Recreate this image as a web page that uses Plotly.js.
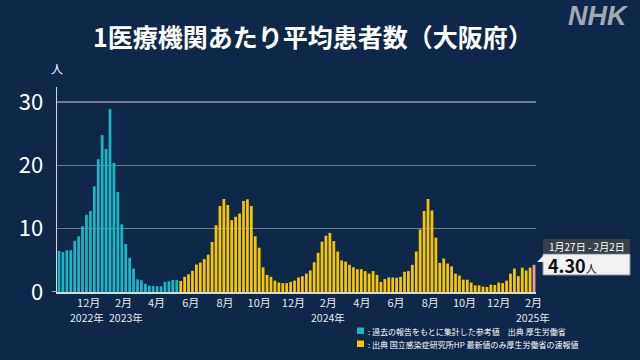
<!DOCTYPE html>
<html>
<head>
<meta charset="utf-8">
<script src="https://cdn.plot.ly/plotly-3.0.1.min.js"></script>
<style>
  html, body { margin: 0; padding: 0; background: #0f2748; }
  #chart { width: 640px; height: 360px; }
</style>
</head>
<body>
<div id="chart"></div>
<script>
// ---- DATA ----
// Weekly average patients per medical institution (Osaka), week ending Sundays
const firstWeekEnd = '2022-10-09';
const avgPatients = [
  6.5, 6.3, 6.6, 6.6, 8.1, 8.8, 10.4, 12.2, 12.8, 16.7,
  21.0, 24.8, 22.6, 28.9, 20.4, 15.8, 10.7, 7.6, 5.4, 3.7,
  2.0, 1.85, 1.3, 1.0, 0.95, 0.9, 0.9, 1.6, 1.7, 1.9,
  1.9, 1.75, 2.4, 2.8, 3.35, 4.35, 4.65, 5.2, 5.9, 7.9,
  10.55, 13.6, 14.7, 13.75, 11.35, 11.9, 12.4, 14.4, 14.65, 13.6,
  8.8, 7.0, 3.9, 2.7, 2.4, 1.8, 1.5, 1.4, 1.4, 1.6,
  1.8, 2.3, 2.5, 2.9, 3.4, 4.7, 6.2, 7.95, 8.9, 9.35,
  8.05, 6.4, 5.0, 4.8, 4.3, 3.9, 3.6, 3.6, 3.3, 2.9,
  3.3, 2.7, 1.6, 2.05, 2.3, 2.3, 2.25, 2.4, 3.2, 3.3,
  4.3, 6.4, 9.9, 12.8, 14.7, 12.9, 8.6, 4.6, 5.3, 4.5,
  4.05, 2.9, 2.6, 1.95, 1.95, 1.5, 1.05, 1.05, 0.85, 0.8,
  1.15, 1.1, 1.5, 1.4, 1.8, 2.9, 3.7, 2.5, 3.85, 3.4,
  3.85, 4.30
];
const referenceWeeks = 31;   // first weeks: reference values (teal)
const tickDates = ['2022-12-01','2023-02-01','2023-04-01','2023-06-01','2023-08-01','2023-10-01',
                   '2023-12-01','2024-02-01','2024-04-01','2024-06-01','2024-08-01','2024-10-01',
                   '2024-12-01','2025-02-01'];
const tickLabels = ['12月','2月','4月','6月','8月','10月','12月','2月','4月','6月','8月','10月','12月','2月'];
const yearLabels = ['2022年', '2023年', '2024年', '2025年'];
const yTicks = [0, 10, 20, 30];
const latestLabel = '1月27日 - 2月2日';
const latestValue = '4.30';
const titleText = '1医療機関あたり平均患者数（大阪府）';
const legendTeal = ': 過去の報告をもとに集計した参考値　出典 厚生労働省';
const legendYellow = ': 出典 国立感染症研究所HP 最新値のみ厚生労働省の速報値';

// ---- BUILD ----
const TEAL = '#19b6c6', YELLOW = '#f6c600', PINK = '#e99aa0';
const weeks = [];
const d0 = new Date(firstWeekEnd + 'T00:00:00Z');
for (let i = 0; i < avgPatients.length; i++) {
  const d = new Date(d0.getTime() + i * 7 * 86400000);
  weeks.push(d.toISOString().slice(0, 10));
}
const colors = avgPatients.map((v, i) =>
  i === avgPatients.length - 1 ? PINK : (i < referenceWeeks ? TEAL : YELLOW));

const FONT = '"Noto Sans CJK JP", "Noto Sans", sans-serif';

const trace = {
  type: 'bar',
  x: weeks,
  y: avgPatients,
  marker: { color: colors, line: { width: 0 } },
  hoverinfo: 'skip'
};

// paper coordinate helpers (plot area: x 57..536, y 87..292 px)
const L = 57, R = 536, T = 87, B = 292;
const px = v => (v - L) / (R - L);
const py = v => (B - v) / (B - T);

const yearFont = { size: 10.5, color: '#e8e8e8', family: FONT };
const yearAnn = (text, x, anchor) => ({
  text, xref: 'x', yref: 'paper', x, y: py(317.5), xanchor: anchor, yanchor: 'middle',
  showarrow: false, font: yearFont
});

const layout = {
  width: 640, height: 360,
  margin: { l: L, r: 640 - R, t: T, b: 360 - B, pad: 0 },
  paper_bgcolor: '#0f2748',
  plot_bgcolor: '#0f2748',
  font: { family: FONT, color: '#ffffff' },
  bargap: 0.3,
  showlegend: false,
  title: {
    text: '<b>' + titleText + '</b>',
    font: { size: 25, color: '#ffffff', family: FONT },
    x: 0.489, xanchor: 'center', xref: 'container',
    y: 1 - 38 / 360, yanchor: 'middle', yref: 'container'
  },
  xaxis: {
    type: 'date',
    range: ['2022-10-05 12:00', '2025-02-05 12:00'],
    tickvals: tickDates,
    ticktext: tickLabels,
    tickangle: 0,
    tickfont: { size: 11, color: '#e8e8e8', family: FONT },
    ticks: '',
    showgrid: false,
    showline: true, linecolor: '#d8d8d8', linewidth: 1.5,
    zeroline: false,
    fixedrange: true
  },
  yaxis: {
    range: [0, 32.4],
    tickvals: yTicks,
    ticktext: yTicks.map(String),
    tickfont: { size: 22, color: '#ffffff', family: FONT },
    ticks: '',
    ticklabelstandoff: 8,
    showgrid: true, gridcolor: 'rgba(190,195,205,0.55)', gridwidth: 1.5,
    showline: true, linecolor: '#d8d8d8', linewidth: 1.5,
    zeroline: false,
    fixedrange: true
  },
  shapes: [
    { type: 'line', xref: 'paper', yref: 'y', x0: px(52), x1: 0, y0: 0, y1: 0,
      line: { color: '#d8d8d8', width: 1.5 } },
    // callout header & box
    { type: 'rect', xref: 'paper', yref: 'paper', x0: px(543), x1: px(630), y0: py(253), y1: py(239),
      fillcolor: '#3a4048', line: { width: 0 } },
    { type: 'rect', xref: 'paper', yref: 'paper', x0: px(543), x1: px(630), y0: py(275), y1: py(254),
      fillcolor: '#f2f2f2', line: { color: '#8a8f96', width: 1 } },
    { type: 'path', xref: 'paper', yref: 'paper',
      path: `M ${px(537)} ${py(262)} L ${px(544)} ${py(255)} L ${px(544)} ${py(262)} Z`,
      fillcolor: '#f2f2f2', line: { width: 0 } },
    // legend squares
    { type: 'rect', xref: 'paper', yref: 'paper', x0: px(357), x1: px(364), y0: py(334), y1: py(327.5),
      fillcolor: TEAL, line: { width: 0 } },
    { type: 'rect', xref: 'paper', yref: 'paper', x0: px(357), x1: px(364), y0: py(347), y1: py(340.5),
      fillcolor: YELLOW, line: { width: 0 } }
  ],
  annotations: [
    yearAnn(yearLabels[0], '2023-01-01', 'right'),
    yearAnn(yearLabels[1], '2023-01-02', 'left'),
    yearAnn(yearLabels[2], tickDates[7], 'center'),
    yearAnn(yearLabels[3], tickDates[13], 'center'),
    { text: '人', xref: 'paper', yref: 'paper', x: 0, y: py(69), xanchor: 'center', yanchor: 'middle',
      showarrow: false, font: { size: 12, color: '#ffffff', family: FONT } },
    { text: '<b><i>NHK</i></b>', xref: 'paper', yref: 'paper', x: px(598), y: py(16),
      xanchor: 'center', yanchor: 'middle', showarrow: false,
      font: { size: 27, color: '#a3a9b1', family: '"Liberation Sans", Arial, sans-serif' } },
    { text: latestLabel, xref: 'paper', yref: 'paper', x: px(586.5), y: py(246),
      xanchor: 'center', yanchor: 'middle', showarrow: false,
      font: { size: 10, color: '#ffffff', family: FONT } },
    { text: '<b>' + latestValue + '</b><span style="font-size:11px">人</span>', xref: 'paper', yref: 'paper',
      x: px(546), y: py(265), xanchor: 'left', yanchor: 'middle', showarrow: false,
      font: { size: 18, color: '#111111', family: FONT } },
    { text: legendTeal, xref: 'paper', yref: 'paper', x: px(366), y: py(331),
      xanchor: 'left', yanchor: 'middle', showarrow: false,
      font: { size: 8, color: '#ffffff', family: FONT } },
    { text: legendYellow, xref: 'paper', yref: 'paper', x: px(366), y: py(344),
      xanchor: 'left', yanchor: 'middle', showarrow: false,
      font: { size: 8, color: '#ffffff', family: FONT } }
  ]
};

Plotly.newPlot('chart', [trace], layout, { staticPlot: true, displayModeBar: false });
</script>
</body>
</html>
